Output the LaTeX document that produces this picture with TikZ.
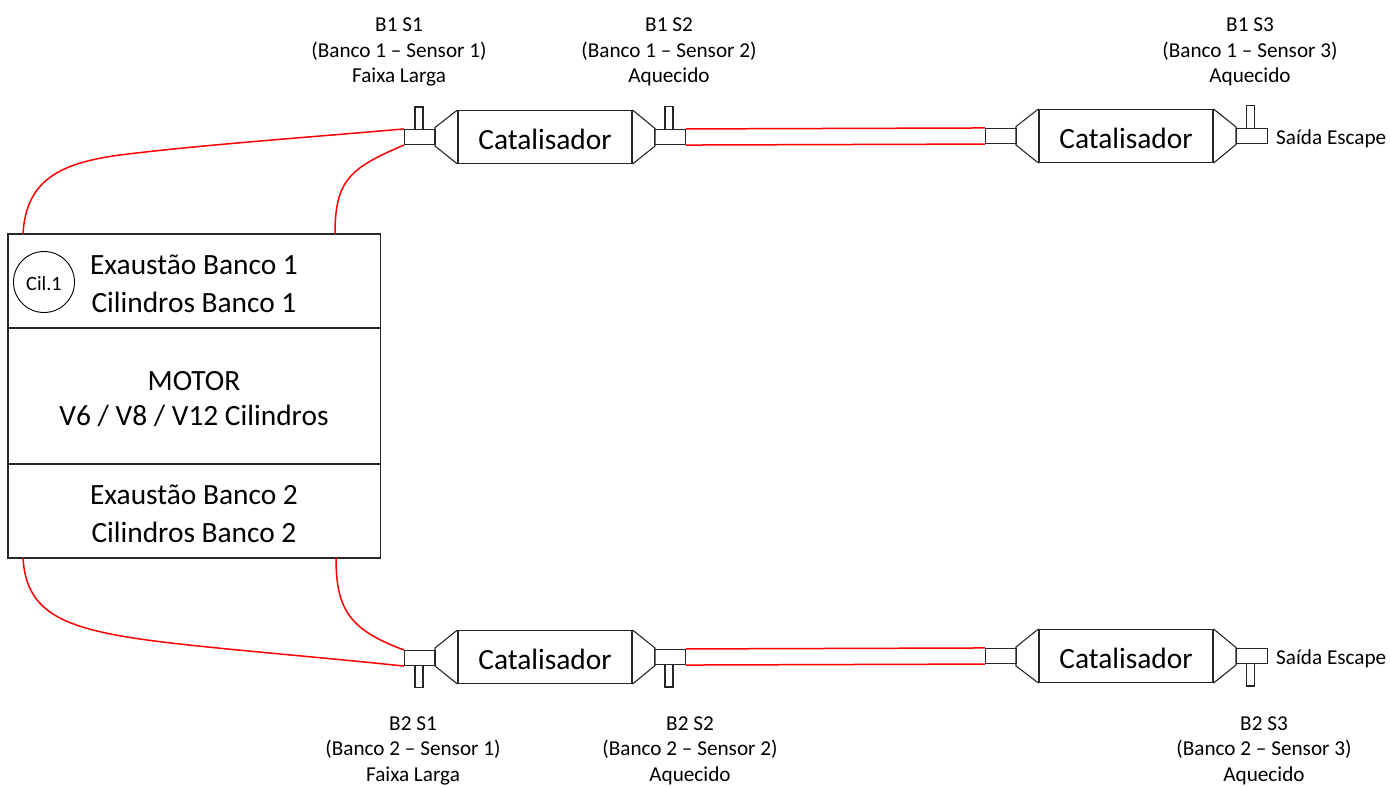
\documentclass[tikz,border=0pt]{standalone}
\usepackage{fontspec}
\setmainfont{Carlito}
\tikzset{
  line/.style={draw=black!85!white,line width=1.1pt},
  redline/.style={draw=red,line width=1.5pt},
  cat/.style={line,minimum width=174pt,minimum height=53pt,inner sep=0pt,text height=24pt,text depth=0pt,font=\fontsize{29.4}{29.4}\selectfont},
  pipebox/.style={line,fill=white,minimum width=30.5pt,minimum height=15pt,inner sep=0pt},
  probe/.style={line,fill=white,minimum width=8pt,minimum height=23pt,inner sep=0pt},
  enginebox/.style={line,minimum width=372.5pt,inner sep=0pt},
  enginetext/.style={align=center,inner sep=0pt,font=\fontsize{29.4}{38}\selectfont},
  lab/.style={align=center,inner sep=0pt,font=\fontsize{21.2}{25.5}\selectfont},
  exitlab/.style={anchor=west,inner sep=0pt,font=\fontsize{21.2}{21.2}\selectfont},
}
\begin{document}
\begin{tikzpicture}[x=1pt,y=-1pt]
\useasboundingbox (0,0) rectangle (1390,785);
% engine
\node[enginebox,minimum height=94pt] (b1) at (194.25,281) {};
\node[enginebox,minimum height=136pt] (mot) at (194.25,396) {};
\node[enginebox,minimum height=94pt] (b2) at (194.25,511) {};
\node[enginetext] (b1t) at (194,284) {Exaustão Banco 1\\Cilindros Banco 1};
\node[enginetext,font=\fontsize{29.4}{35}\selectfont] (mott) at (194,399) {MOTOR\\V6 / V8 / V12 Cilindros};
\node[enginetext] (b2t) at (194,514) {Exaustão Banco 2\\Cilindros Banco 2};
\node[circle,draw=black,line width=0.9pt,minimum size=61pt,inner sep=0pt,text height=16pt,text depth=0pt,font=\fontsize{20.3}{20.3}\selectfont] (cil) at (44,282) {Cil.1};
% top row
\node[probe] (p11) at (419,118.5) {};
\node[probe] (p12) at (669,118) {};
\node[probe] (p13) at (1250.5,117) {};
\node[pipebox] (s11) at (419.75,137) {};
\node[cat] (c11) at (545,137) {Catalisador};
\node[pipebox] (s12) at (670,137) {};
\node[pipebox] (s1m) at (1001,136) {};
\node[cat] (c12) at (1126,136) {Catalisador};
\node[pipebox] (s13) at (1252,136) {};
% bottom row
\node[probe] (p21) at (419,676) {};
\node[probe] (p22) at (669,675.5) {};
\node[probe] (p23) at (1250.5,674.5) {};
\node[pipebox] (s21) at (419.75,658) {};
\node[cat] (c21) at (545,657) {Catalisador};
\node[pipebox] (s22) at (670,657) {};
\node[pipebox] (s2m) at (1001,656) {};
\node[cat] (c22) at (1126,656) {Catalisador};
\node[pipebox] (s23) at (1252,656) {};
% cones
\draw[line] (c11.north west) -- (435,127.5) -- (435,146) -- (c11.south west);
\draw[line] (c11.north east) -- (655,128.5) -- (655,146) -- (c11.south east);
\draw[line] (c12.north west) -- (1016,126.5) -- (1016,145) -- (c12.south west);
\draw[line] (c12.north east) -- (1236,127) -- (1236,144.5) -- (c12.south east);
\draw[line] (c21.north west) -- (435,648) -- (435,666) -- (c21.south west);
\draw[line] (c21.north east) -- (655,648) -- (655,665.5) -- (c21.south east);
\draw[line] (c22.north west) -- (1016,647) -- (1016,666) -- (c22.south west);
\draw[line] (c22.north east) -- (1236,647.5) -- (1236,665) -- (c22.south east);
% red connectors
\coordinate (t1) at (23,234);
\coordinate (t2) at (335,234);
\coordinate (u1) at (23,558);
\coordinate (u2) at (336,558);
\draw[redline] (t1) .. controls (26,180) and (60,163) .. (120,155) .. controls (200,145) and (300,138) .. (s11.north west);
\draw[redline] (t2) .. controls (335,180) and (350,168) .. (s11.south west);
\draw[redline] (u1) .. controls (26,610) and (60,626) .. (130,637.5) .. controls (190,647) and (300,655) .. (s21.south west);
\draw[redline] (u2) .. controls (336,610) and (350,630) .. (s21.north west);
\draw[redline] (s12.north east) -- (s1m.north west);
\draw[redline] (s12.south east) -- (s1m.south west);
\draw[redline] (s22.north east) -- (s2m.north west);
\draw[redline] (s22.south east) -- (s2m.south west);
% labels
\node[lab] (l11) at (399,52) {B1 S1\\(Banco 1 – Sensor 1)\\Faixa Larga};
\node[lab] (l12) at (669,52) {B1 S2\\(Banco 1 – Sensor 2)\\Aquecido};
\node[lab] (l13) at (1250,52) {B1 S3\\(Banco 1 – Sensor 3)\\Aquecido};
\node[lab] (l21) at (413,750.5) {B2 S1\\(Banco 2 – Sensor 1)\\Faixa Larga};
\node[lab] (l22) at (690,750.5) {B2 S2\\(Banco 2 – Sensor 2)\\Aquecido};
\node[lab] (l23) at (1264,750.5) {B2 S3\\(Banco 2 – Sensor 3)\\Aquecido};
\node[exitlab] (e1) at (1276,138.5) {Saída Escape};
\node[exitlab] (e2) at (1276,658.5) {Saída Escape};
\end{tikzpicture}
\end{document}
